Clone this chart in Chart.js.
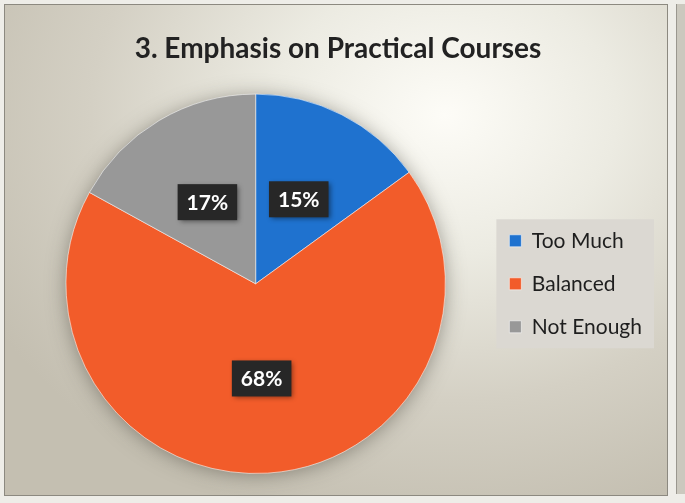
<!DOCTYPE html>
<html>
<head>
<meta charset="utf-8">
<script src="https://cdn.jsdelivr.net/npm/chart.js@4"></script>
<style>
  html, body { margin: 0; padding: 0; }
  body { width: 685px; height: 503px; background: #eeede8; position: relative; overflow: hidden; }
  #frame {
    position: absolute; left: 4px; top: 4px; width: 662px; height: 490px;
    border: 1px solid #8c8980;
    background: radial-gradient(ellipse 520px 420px at 440px 110px, #fdfcf7 0%, #ecebe2 33%, #d4d0c4 68%, #c4bfb1 100%);
  }
  #side {
    position: absolute; left: 676px; top: 4px; width: 12px; height: 490px;
    border-left: 1px solid #9a978f; background: #cbc8be;
  }
  canvas { position: absolute; left: 0; top: 0; }
</style>
</head>
<body>
<div id="frame"></div>
<div id="side"></div>
<canvas id="c" width="685" height="503"></canvas>
<script>
const titleText = "3. Emphasis on Practical Courses";
const categories = ["Too Much", "Balanced", "Not Enough"];
const values = [15, 68, 17];
const colors = ["#1f72cf", "#f25c2a", "#989898"];

const legendBg = {
  id: 'legendBg',
  beforeDraw(chart) {
    const lg = chart.legend;
    if (!lg || !lg.legendHitBoxes || !lg.legendHitBoxes.length) return;
    const hb = lg.legendHitBoxes;
    let right = 0;
    hb.forEach(h => { right = Math.max(right, h.left + h.width); });
    const x0 = hb[0].left - 13, y0 = hb[0].top - 11;
    const last = hb[hb.length - 1];
    const x1 = right + 12, y1 = last.top + last.height + 11;
    const ctx = chart.ctx;
    ctx.save();
    ctx.fillStyle = '#dbd8d2';
    ctx.fillRect(x0, y0, x1 - x0, y1 - y0);
    ctx.restore();
  }
};

const pieShadow = {
  id: 'pieShadow',
  beforeDatasetsDraw(chart) {
    const arc = chart.getDatasetMeta(0).data[0];
    if (!arc) return;
    const ctx = chart.ctx;
    ctx.save();
    ctx.shadowColor = 'rgba(60,55,45,0.5)';
    ctx.shadowBlur = 20;
    ctx.shadowOffsetX = 0;
    ctx.shadowOffsetY = 2;
    ctx.fillStyle = '#999';
    ctx.beginPath();
    ctx.arc(arc.x, arc.y, arc.outerRadius - 1, 0, Math.PI * 2);
    ctx.fill();
    ctx.restore();
  }
};

const valueLabels = {
  id: 'valueLabels',
  afterDatasetsDraw(chart) {
    const ctx = chart.ctx;
    const meta = chart.getDatasetMeta(0);
    ctx.save();
    ctx.font = 'bold 21px Lato';
    ctx.textAlign = 'center';
    ctx.textBaseline = 'middle';
    meta.data.forEach((arc, i) => {
      const p = arc.getCenterPoint();
      const txt = chart.data.datasets[0].data[i] + '%';
      const w = ctx.measureText(txt).width + 18;
      const h = 36;
      ctx.save();
      ctx.shadowColor = 'rgba(0,0,0,0.45)';
      ctx.shadowBlur = 5;
      ctx.shadowOffsetX = 2;
      ctx.shadowOffsetY = 2;
      ctx.fillStyle = '#272727';
      ctx.fillRect(p.x - w / 2, p.y - h / 2, w, h);
      ctx.restore();
      ctx.fillStyle = '#ffffff';
      ctx.fillText(txt, p.x, p.y + 1);
    });
    ctx.restore();
  }
};

new Chart(document.getElementById('c'), {
  type: 'pie',
  data: {
    labels: categories,
    datasets: [{
      data: values,
      backgroundColor: colors,
      borderColor: 'rgba(255,255,255,0.55)',
      borderWidth: 1
    }]
  },
  options: {
    responsive: false,
    animation: false,
    rotation: 0,
    layout: { padding: { left: 24, right: 33, top: 0, bottom: 29 } },
    plugins: {
      title: {
        display: true,
        text: titleText,
        color: '#222222',
        font: { family: 'Lato', size: 28, weight: 'bold', lineHeight: 1.2 },
        padding: { top: 32, bottom: 28 }
      },
      legend: {
        position: 'right',
        fullSize: false,
        labels: {
          boxWidth: 12,
          boxHeight: 12,
          padding: 22,
          color: '#1e1e1e',
          font: { family: 'Lato', size: 21 }
        }
      },
      tooltip: { enabled: false }
    }
  },
  plugins: [legendBg, pieShadow, valueLabels]
});
</script>
</body>
</html>
